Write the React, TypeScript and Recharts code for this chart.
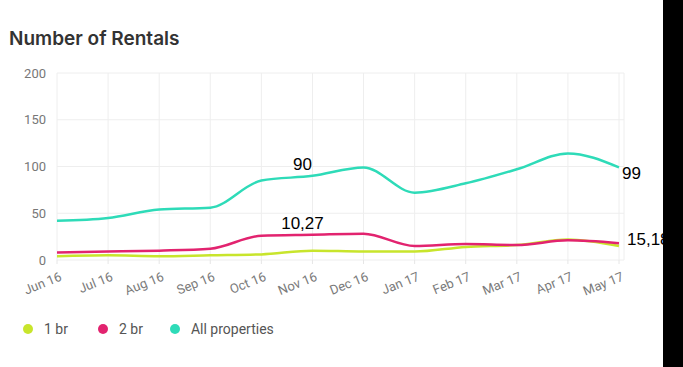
import React from 'react';
import { LineChart, Line, XAxis, YAxis, CartesianGrid, LabelList } from 'recharts';

const months = ['Jun 16', 'Jul 16', 'Aug 16', 'Sep 16', 'Oct 16', 'Nov 16', 'Dec 16', 'Jan 17', 'Feb 17', 'Mar 17', 'Apr 17', 'May 17'];
const oneBr = [4, 5, 4, 5, 6, 10, 9, 9, 14, 16, 22, 15];
const twoBr = [8, 9, 10, 12, 26, 27, 28, 15, 17, 16, 21, 18];
const allProps = [42, 45, 54, 56, 85, 90, 99, 72, 82, 97, 114, 99];
const yTicks = [0, 50, 100, 150, 200];

// annotations drawn on top of the chart (index -> text)
const allNotes: Record<number, string> = { 5: '90', 11: '99' };
const brNotes: Record<number, string> = { 5: '10,27', 11: '15,18' };

const SERIES = [
    { key: 'oneBr', name: '1 br', color: '#c8e52c' },
    { key: 'twoBr', name: '2 br', color: '#e2236f' },
    { key: 'all', name: 'All properties', color: '#2edbb8' },
];

const data = months.map((m, i) => ({ month: m, oneBr: oneBr[i], twoBr: twoBr[i], all: allProps[i] }));

const makeNote = (notes: Record<number, string>, endDx: number, endDy: number) => (props: any) => {
    const { x, y, index } = props;
    const text = notes[index];
    if (!text) return null;
    const last = index === months.length - 1;
    return (
        <text
            x={last ? x + endDx : x - 10}
            y={last ? y + endDy : y - 6}
            textAnchor={last ? 'start' : 'middle'}
            fontFamily="'Liberation Sans', Arial, sans-serif"
            fontSize={17}
            fill="#000"
        >
            {text}
        </text>
    );
};

const XTick = (props: any) => {
    const { x, y, payload } = props;
    return (
        <g transform={`translate(${x},${y})`}>
            <text x={0} y={0} dy={15} textAnchor="end" transform="rotate(-22)" fontSize={13} fill="#7a7a7a" fontFamily="Roboto, sans-serif">
                {payload.value}
            </text>
        </g>
    );
};

const App: React.FC = () => {
    return (
        <div style={{ position: 'absolute', left: 0, top: 0, width: 683, height: 367, background: '#fff', overflow: 'hidden' }}>
            <div style={{ position: 'absolute', left: 9, top: 27, fontFamily: 'Inter, sans-serif', fontWeight: 600, fontSize: 19, color: '#333' }}>
                Number of Rentals
            </div>
            <div style={{ position: 'absolute', left: 0, top: 0 }}>
                <LineChart width={683} height={300} data={data} margin={{ top: 73, right: 59, bottom: 0, left: 0 }}>
                    <CartesianGrid stroke="#eeeeee" />
                    <XAxis
                        dataKey="month"
                        interval={0}
                        height={40}
                        tick={<XTick />}
                        tickLine={{ stroke: '#e6e6e6' }}
                        tickSize={4}
                        axisLine={false}
                        padding={{ left: 0, right: 5 }}
                    />
                    <YAxis
                        width={57}
                        domain={[0, 200]}
                        ticks={yTicks}
                        tickLine={false}
                        axisLine={false}
                        tickMargin={5}
                        tick={{ fontSize: 13, fill: '#777', fontFamily: 'Roboto, sans-serif' }}
                    />
                    {SERIES.map((s) => (
                        <Line
                            key={s.key}
                            type="monotone"
                            dataKey={s.key}
                            stroke={s.color}
                            strokeWidth={2.5}
                            dot={false}
                            isAnimationActive={false}
                        >
                            {s.key === 'all' && <LabelList dataKey="all" content={makeNote(allNotes, 3, 12)} />}
                            {s.key === 'twoBr' && <LabelList dataKey="twoBr" content={makeNote(brNotes, 8, 2)} />}
                        </Line>
                    ))}
                </LineChart>
            </div>
            <div style={{ position: 'absolute', left: 23, top: 321, display: 'flex', fontFamily: 'Roboto, sans-serif', fontSize: 14, color: '#555' }}>
                {SERIES.map((s, i) => (
                    <div key={s.key} style={{ display: 'flex', alignItems: 'center', marginRight: i === 0 ? 30 : 27 }}>
                        <span style={{ width: 10, height: 10, borderRadius: 5, background: s.color, display: 'inline-block', marginRight: 11 }} />
                        <span>{s.name}</span>
                    </div>
                ))}
            </div>
            <div style={{ position: 'absolute', left: 663, top: 0, width: 20, height: 367, background: '#000' }} />
        </div>
    );
};

export default App;
